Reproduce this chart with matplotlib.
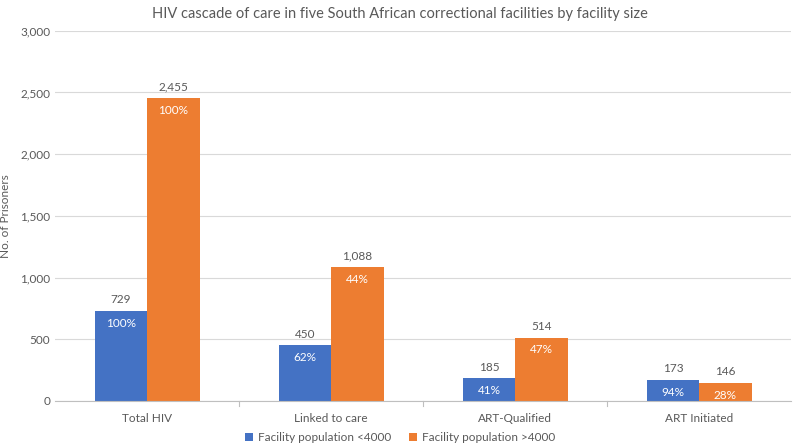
import matplotlib.pyplot as plt
import numpy as np

plt.rcParams['font.family'] = ['Lato', 'DejaVu Sans']

categories = ['Total HIV', 'Linked to care', 'ART-Qualified', 'ART Initiated']
small_vals = [729, 450, 185, 173]
large_vals = [2455, 1088, 514, 146]
small_pct = ['100%', '62%', '41%', '94%']
large_pct = ['100%', '44%', '47%', '28%']
series_names = ['Facility population <4000', 'Facility population >4000']

blue = '#4472C4'
orange = '#ED7D31'
txt = '#595959'

fig = plt.figure(figsize=(8, 4.46), dpi=100)
ax = fig.add_axes([0.069, 0.101, 0.92, 0.83])

x = np.arange(len(categories))
w = 0.285
b1 = ax.bar(x - w / 2, small_vals, w, color=blue, label=series_names[0])
b2 = ax.bar(x + w / 2, large_vals, w, color=orange, label=series_names[1])

for bars, vals, pcts in [(b1, small_vals, small_pct), (b2, large_vals, large_pct)]:
    for r, v, p in zip(bars, vals, pcts):
        cx = r.get_x() + r.get_width() / 2
        ax.annotate(f'{v:,}', (cx, v), xytext=(0, 4), textcoords='offset points',
                    ha='center', va='bottom', fontsize=8.5, color=txt)
        ax.annotate(p, (cx, v), xytext=(0, -5), textcoords='offset points',
                    ha='center', va='top', fontsize=8.5, color='white')

ax.set_xlim(-0.5, len(categories) - 0.5)
ax.set_ylim(0, 3000)
ax.set_yticks(np.arange(0, 3001, 500))
ax.set_yticklabels([f'{t:,}' for t in range(0, 3001, 500)])
ax.set_xticks(x)
ax.set_xticklabels(categories)
ax.tick_params(axis='both', colors=txt, labelsize=8.5, length=0)
ax.tick_params(axis='x', pad=9)
ax.grid(axis='y', color='#D9D9D9', linewidth=0.8)
ax.set_axisbelow(True)
for s in ['top', 'right', 'left']:
    ax.spines[s].set_visible(False)
ax.spines['bottom'].set_color('#BFBFBF')
for xb in np.arange(0.5, len(categories) - 0.5, 1):
    ax.plot([xb, xb], [0, -40], color='#BFBFBF', lw=0.8, clip_on=False)

ax.set_ylabel('No. of Prisoners', color=txt, fontsize=8.5)
ax.yaxis.set_label_coords(-0.06, 0.5)
fig.suptitle('HIV cascade of care in five South African correctional facilities by facility size',
             color=txt, fontsize=10.5, y=0.985)

fig.legend(handles=[b1, b2], loc='lower center', ncol=2, frameon=False, fontsize=8.5,
           labelcolor=txt, handlelength=0.7, handleheight=0.7, handletextpad=0.4,
           columnspacing=1.5, bbox_to_anchor=(0.5, -0.018))

fig.savefig('out.png', dpi=100)
